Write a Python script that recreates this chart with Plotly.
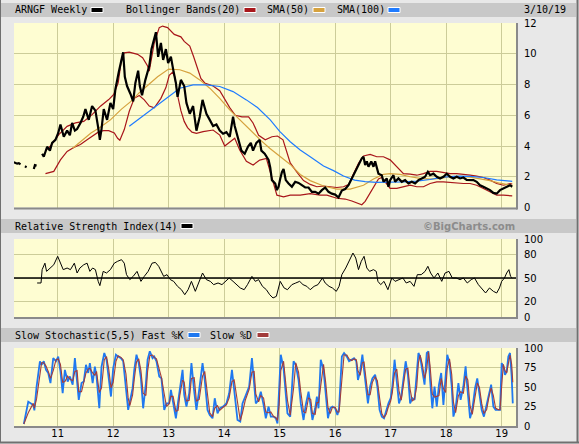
import plotly.graph_objects as go

W, H = 579, 444

# ---------------- data (decimal years) ----------------
price_x = [2010.21, 2010.24, 2010.27, 2010.30, 2010.33, None,
           2010.41, 2010.44, None,
           2010.57, 2010.59, 2010.62, None,
           2010.72, 2010.75, 2010.81, 2010.86, 2010.90, 2010.96, 2011.01, 2011.05, 2011.11, 2011.17,
           2011.22, 2011.26, 2011.31, 2011.35, 2011.41, 2011.46, 2011.50, 2011.56, 2011.62, 2011.68,
           2011.73, 2011.76, 2011.79, 2011.83, 2011.89, 2011.95, 2012.00, 2012.04, 2012.10, 2012.15,
           2012.18, 2012.21, 2012.25, 2012.31, 2012.36, 2012.40, 2012.45, 2012.48, 2012.52, 2012.58,
           2012.65, 2012.69, 2012.74, 2012.77, 2012.81, 2012.86, 2012.90, 2012.95, 2012.99, 2013.04,
           2013.08, 2013.13, 2013.16, 2013.22, 2013.28, 2013.32, 2013.38, 2013.44, 2013.50, 2013.56,
           2013.61, 2013.65, 2013.68, 2013.74, 2013.80, 2013.86, 2013.92, 2013.98, 2014.04, 2014.10,
           2014.16, 2014.19, 2014.25, 2014.31, 2014.37, 2014.43, 2014.48, 2014.52, 2014.58, 2014.64,
           2014.67, 2014.73, 2014.80, 2014.83, 2014.86, 2014.92, 2014.95, 2014.98, 2015.01, 2015.04,
           2015.07, 2015.11, 2015.16, 2015.22, 2015.28, 2015.34, 2015.40, 2015.46, 2015.52, 2015.58,
           2015.64, 2015.70, 2015.76, 2015.82, 2015.88, 2015.94, 2016.00, 2016.06, 2016.12, 2016.18,
           2016.24, 2016.30, 2016.36, 2016.42, 2016.48, 2016.51, 2016.54, 2016.57, 2016.60, 2016.65,
           2016.69, 2016.72, 2016.75, 2016.78, 2016.84, 2016.87, 2016.93, 2016.96, 2016.99, 2017.05,
           2017.08, 2017.14, 2017.20, 2017.26, 2017.32, 2017.38, 2017.44, 2017.50, 2017.56, 2017.62,
           2017.67, 2017.71, 2017.77, 2017.83, 2017.89, 2017.95, 2018.01, 2018.07, 2018.13, 2018.19,
           2018.25, 2018.31, 2018.37, 2018.43, 2018.49, 2018.55, 2018.61, 2018.67, 2018.73, 2018.79,
           2018.85, 2018.91, 2018.97, 2019.03, 2019.09, 2019.15, 2019.19]
price_y = [2.95, 2.9, 2.85, 2.88, 2.8, None,
           2.68, 2.62, None,
           2.5, 2.75, 2.72, None,
           3.5, 3.3, 3.95, 3.7, 4.2, 4.4, 4.85, 5.4, 4.6, 5.0,
           4.7, 5.5, 5.0, 5.1, 5.5, 5.9, 6.4, 5.7, 6.6, 6.3,
           5.2, 4.4, 5.1, 6.4, 5.7, 6.8, 6.4, 7.7, 8.8, 9.6,
           10.1, 8.5, 7.9, 7.4, 6.9, 8.1, 8.9, 7.9, 7.3, 8.3,
           9.2, 10.3, 10.9, 11.4, 9.8, 10.7, 9.6, 10.3, 9.4, 9.8,
           9.0, 8.1, 7.2, 8.3, 7.9, 6.8, 6.1, 6.6, 5.0, 5.9,
           7.0, 6.5, 6.1, 5.7, 5.3, 5.4, 5.0, 4.8, 4.9, 4.6,
           5.9, 5.3, 4.4, 3.7, 3.5, 3.96, 4.2, 3.7, 4.2, 4.4,
           3.7, 3.5, 3.1, 2.6, 1.78, 1.56, 1.13, 1.35, 1.87, 2.3,
           2.5, 1.78, 1.56, 1.35, 1.67, 1.6, 1.45, 1.3, 1.3, 1.02,
           1.02, 0.9, 1.13, 1.3, 1.02, 0.9, 0.84, 0.65, 1.1, 1.2,
           1.45, 1.9, 2.3, 2.76, 3.2, 3.3, 2.76, 3.0, 2.65, 3.0,
           2.65, 3.0, 2.54, 2.2, 2.1, 1.67, 1.89, 1.35, 1.78, 2.1,
           1.67, 1.89, 1.67, 1.78, 1.56, 1.67, 1.56, 1.78, 1.89, 2.0,
           2.32, 2.1, 2.2, 2.0, 1.89, 2.0, 2.2, 2.0, 1.89, 2.0,
           1.89, 1.95, 1.8, 1.78, 1.78, 1.67, 1.45, 1.35, 1.24, 1.13,
           0.95, 0.9, 1.13, 1.24, 1.35, 1.45, 1.35]

bb_upper_x = [2010.78, 2010.87, 2011.02, 2011.17, 2011.32, 2011.47, 2011.62, 2011.77, 2011.92, 2012.01,
              2012.09, 2012.15, 2012.20, 2012.29, 2012.44, 2012.53, 2012.62, 2012.65, 2012.74, 2012.83,
              2012.89, 2012.98, 2013.10, 2013.22, 2013.28, 2013.38, 2013.45, 2013.50, 2013.58, 2013.65,
              2013.80, 2013.92, 2014.02, 2014.10, 2014.20, 2014.32, 2014.44, 2014.52, 2014.62, 2014.74,
              2014.86, 2014.96, 2015.06, 2015.13, 2015.19, 2015.31, 2015.43, 2015.55, 2015.67, 2015.79,
              2015.91, 2016.03, 2016.15, 2016.24, 2016.33, 2016.42, 2016.51, 2016.63, 2016.75, 2016.87,
              2016.99, 2017.11, 2017.23, 2017.35, 2017.47, 2017.59, 2017.71, 2017.83, 2017.95, 2018.07,
              2018.19, 2018.31, 2018.43, 2018.55, 2018.67, 2018.79, 2018.91, 2019.03, 2019.15, 2019.19]
bb_upper_y = [3.7, 4.0, 4.74, 5.28, 5.5, 5.6, 6.04, 6.59, 7.02, 7.35,
              8.1, 9.63, 10.06, 10.1, 9.96, 9.74, 9.2, 8.87, 10.7, 11.7,
              11.8, 11.7, 11.26, 11.1, 10.8, 10.5, 9.8, 9.2, 8.4, 8.1,
              7.9, 7.6, 7.0, 6.5, 6.0, 5.9, 5.9, 5.5, 4.7, 4.4,
              4.6, 4.65, 4.4, 3.6, 2.9, 2.3, 1.75, 1.5, 1.35, 1.4,
              1.35, 1.3, 1.35, 1.5, 2.2, 2.87, 3.35, 3.45, 3.3, 3.3,
              3.1, 2.65, 2.2, 2.17, 2.1, 2.2, 2.35, 2.35, 2.28, 2.2,
              2.2, 2.17, 2.1, 2.04, 1.95, 1.78, 1.56, 1.45, 1.56, 1.52]

bb_lower_x = [2010.78, 2010.93, 2011.05, 2011.17, 2011.29, 2011.41, 2011.53, 2011.65, 2011.75, 2011.83,
              2011.92, 2012.02, 2012.08, 2012.12, 2012.20, 2012.29, 2012.38, 2012.47, 2012.56, 2012.65,
              2012.74, 2012.86, 2012.95, 2013.01, 2013.07, 2013.11, 2013.16, 2013.22, 2013.28, 2013.34,
              2013.42, 2013.50, 2013.62, 2013.80, 2013.92, 2014.01, 2014.10, 2014.19, 2014.28, 2014.40,
              2014.52, 2014.64, 2014.76, 2014.85, 2014.95, 2015.07, 2015.19, 2015.37, 2015.55, 2015.73,
              2015.85, 2016.03, 2016.18, 2016.30, 2016.42, 2016.48, 2016.54, 2016.63, 2016.72, 2016.78,
              2016.84, 2016.93, 2016.99, 2017.11, 2017.23, 2017.35, 2017.47, 2017.59, 2017.71, 2017.83,
              2017.95, 2018.07, 2018.19, 2018.31, 2018.43, 2018.55, 2018.67, 2018.79, 2018.91, 2019.03,
              2019.15, 2019.19]
bb_lower_y = [2.2, 2.35, 3.1, 3.65, 3.9, 4.1, 4.4, 4.7, 4.95, 5.0,
              5.0, 4.85, 4.5, 4.37, 5.07, 6.26, 7.1, 7.28, 7.0, 6.6,
              6.48, 7.1, 7.8, 8.6, 8.8, 8.5, 7.3, 6.3, 5.6, 5.2,
              4.9, 4.82, 4.93, 5.04, 4.71, 4.0, 4.28, 4.5, 3.74, 3.0,
              2.76, 3.08, 3.19, 2.0, 0.8, 0.69, 0.8, 0.8, 0.9, 0.8,
              0.8, 0.6, 0.55, 0.42, 0.24, 0.18, 0.4, 0.95, 1.5, 1.85,
              1.95, 1.5, 1.24, 1.24, 1.35, 1.45, 1.35, 1.35, 1.56, 1.67,
              1.67, 1.63, 1.6, 1.56, 1.56, 1.45, 1.24, 1.02, 0.8, 0.8,
              0.8, 0.76]

sma50_x = [2011.27, 2011.45, 2011.60, 2011.76, 2011.95, 2012.15, 2012.32, 2012.48, 2012.65, 2012.80,
           2013.00, 2013.20, 2013.38, 2013.56, 2013.74, 2013.92, 2014.10, 2014.28, 2014.46, 2014.65,
           2014.82, 2015.00, 2015.19, 2015.37, 2015.55, 2015.79, 2016.03, 2016.27, 2016.51, 2016.69,
           2016.87, 2016.99, 2017.17, 2017.35, 2017.53, 2017.71, 2017.89, 2018.07, 2018.25, 2018.43,
           2018.61, 2018.79, 2018.97, 2019.15, 2019.19]
sma50_y = [3.85, 4.4, 4.85, 5.2, 5.7, 6.4, 6.9, 7.5, 8.0, 8.5,
           9.0, 8.96, 8.74, 8.3, 7.76, 7.1, 6.35, 5.7, 5.04, 4.4,
           3.85, 3.35, 2.8, 2.15, 1.75, 1.4, 1.2, 1.2, 1.45, 1.85,
           2.15, 2.2, 2.15, 2.0, 1.9, 1.85, 1.9, 2.0, 2.02, 1.98,
           1.88, 1.75, 1.58, 1.45, 1.42]

sma100_x = [2012.29, 2012.50, 2012.74, 2012.98, 2013.20, 2013.44, 2013.68, 2013.92, 2014.16, 2014.40,
            2014.60, 2014.83, 2015.00, 2015.19, 2015.37, 2015.55, 2015.79, 2015.97, 2016.15, 2016.35,
            2016.54, 2016.75, 2016.99, 2017.23, 2017.47, 2017.71, 2017.95, 2018.19, 2018.43, 2018.67,
            2018.91, 2019.19]
sma100_y = [5.28, 5.85, 6.5, 7.15, 7.76, 7.98, 7.98, 7.87, 7.54, 7.0,
            6.5, 5.7, 4.95, 4.28, 3.74, 3.3, 2.7, 2.4, 2.05, 1.78,
            1.68, 1.63, 1.64, 1.67, 1.72, 1.82, 1.97, 2.04, 2.03, 1.95,
            1.8, 1.7]

rsi_x = [2010.63, 2010.70, 2010.72, 2010.77, 2010.80, 2010.87, 2010.93, 2011.00, 2011.05, 2011.10,
         2011.17, 2011.23, 2011.30, 2011.35, 2011.40, 2011.47, 2011.53, 2011.58, 2011.63, 2011.68,
         2011.73, 2011.76, 2011.82, 2011.88, 2011.95, 2012.02, 2012.08, 2012.15, 2012.20, 2012.24,
         2012.30, 2012.36, 2012.43, 2012.50, 2012.56, 2012.63, 2012.70, 2012.76, 2012.82, 2012.86,
         2012.91, 2012.97, 2013.03, 2013.09, 2013.16, 2013.23, 2013.29, 2013.35, 2013.41, 2013.48,
         2013.55, 2013.61, 2013.68, 2013.75, 2013.81, 2013.89, 2013.96, 2014.03, 2014.09, 2014.16,
         2014.22, 2014.29, 2014.36, 2014.42, 2014.50, 2014.56, 2014.62, 2014.69, 2014.76, 2014.82,
         2014.88, 2014.94, 2015.01, 2015.08, 2015.14, 2015.22, 2015.29, 2015.36, 2015.42, 2015.49,
         2015.55, 2015.62, 2015.69, 2015.77, 2015.82, 2015.89, 2015.95, 2016.02, 2016.07, 2016.12,
         2016.19, 2016.25, 2016.32, 2016.37, 2016.42, 2016.47, 2016.52, 2016.57, 2016.62, 2016.69,
         2016.74, 2016.77, 2016.82, 2016.88, 2016.95, 2017.02, 2017.08, 2017.15, 2017.22, 2017.28,
         2017.35, 2017.42, 2017.48, 2017.55, 2017.62, 2017.67, 2017.72, 2017.78, 2017.85, 2017.92,
         2017.98, 2018.05, 2018.11, 2018.18, 2018.25, 2018.31, 2018.38, 2018.45, 2018.51, 2018.58,
         2018.65, 2018.71, 2018.78, 2018.85, 2018.91, 2018.96, 2019.00, 2019.05, 2019.09, 2019.13,
         2019.16, 2019.19]
rsi_y = [43.6, 43.6, 60.7, 69, 58.5, 62.8, 67, 77.8, 69, 60.7,
         62.8, 60.7, 69, 56.4, 62.8, 67, 69, 58.5, 62.8, 60.7,
         45.7, 40.2, 58.5, 56.4, 60.7, 69, 71.4, 73.5, 69, 54.3,
         47.9, 52.1, 58.5, 45.7, 52.1, 58.5, 69, 70, 65, 58.5,
         52.1, 54.3, 47.9, 45.7, 39.3, 35, 28.6, 35, 45.7, 32.9,
         45.7, 56.4, 47.9, 45.7, 41.5, 43.6, 41.5, 45.7, 50, 45.7,
         41.5, 37.2, 35, 41.5, 52.1, 45.7, 47.9, 39.3, 35, 28.6,
         24.4, 26.5, 45.7, 37.2, 35, 41.5, 43.6, 45.7, 41.5, 39.3,
         35, 39.3, 41.5, 50, 43.6, 39.3, 37.2, 32.9, 39.3, 54.3,
         62.8, 71.4, 82, 75.6, 60.7, 71.4, 77.8, 62.8, 58.5, 60.7,
         58.5, 45.7, 41.5, 45.7, 35, 50, 45.7, 47.9, 50, 43.6,
         45.7, 39.3, 54.3, 54.3, 58.5, 65, 56.4, 50, 56.4, 45.7,
         56.4, 58.5, 50, 50, 47.9, 50, 43.6, 47.9, 50, 41.5,
         35, 30.8, 37.2, 32.9, 30.8, 37.2, 45.7, 50, 56.4, 60.7,
         52.1, 50]

stoch_x = [2010.39, 2010.47, 2010.56, 2010.58, 2010.62, 2010.68, 2010.71, 2010.75, 2010.79, 2010.83,
           2010.87, 2010.92, 2010.97, 2011.01, 2011.05, 2011.09, 2011.13, 2011.18, 2011.22, 2011.27,
           2011.31, 2011.35, 2011.38, 2011.43, 2011.47, 2011.51, 2011.55, 2011.58, 2011.63, 2011.67,
           2011.70, 2011.75, 2011.79, 2011.84, 2011.88, 2011.92, 2011.96, 2012.00, 2012.05, 2012.09,
           2012.14, 2012.18, 2012.23, 2012.27, 2012.30, 2012.35, 2012.38, 2012.42, 2012.46, 2012.50,
           2012.54, 2012.59, 2012.62, 2012.66, 2012.71, 2012.74, 2012.78, 2012.83, 2012.87, 2012.92,
           2012.96, 2013.01, 2013.04, 2013.08, 2013.13, 2013.17, 2013.20, 2013.25, 2013.28, 2013.32,
           2013.37, 2013.41, 2013.46, 2013.50, 2013.55, 2013.61, 2013.65, 2013.70, 2013.74, 2013.79,
           2013.83, 2013.88, 2013.92, 2013.98, 2014.04, 2014.09, 2014.14, 2014.18, 2014.24, 2014.29,
           2014.33, 2014.38, 2014.42, 2014.45, 2014.50, 2014.54, 2014.57, 2014.62, 2014.66, 2014.71,
           2014.75, 2014.80, 2014.84, 2014.89, 2014.93, 2014.96, 2014.99, 2015.02, 2015.07, 2015.10,
           2015.14, 2015.19, 2015.25, 2015.29, 2015.34, 2015.38, 2015.43, 2015.47, 2015.52, 2015.56,
           2015.59, 2015.64, 2015.67, 2015.70, 2015.74, 2015.79, 2015.83, 2015.87, 2015.91, 2015.95,
           2016.00, 2016.04, 2016.07, 2016.12, 2016.16, 2016.21, 2016.25, 2016.30, 2016.34, 2016.38,
           2016.41, 2016.45, 2016.49, 2016.52, 2016.56, 2016.59, 2016.63, 2016.67, 2016.72, 2016.76,
           2016.80, 2016.84, 2016.88, 2016.92, 2016.96, 2017.00, 2017.03, 2017.07, 2017.11, 2017.15,
           2017.19, 2017.23, 2017.27, 2017.31, 2017.35, 2017.39, 2017.43, 2017.47, 2017.50, 2017.53,
           2017.57, 2017.61, 2017.65, 2017.68, 2017.71, 2017.75, 2017.79, 2017.83, 2017.87, 2017.91,
           2017.95, 2017.99, 2018.02, 2018.06, 2018.10, 2018.13, 2018.17, 2018.22, 2018.26, 2018.31,
           2018.35, 2018.39, 2018.43, 2018.47, 2018.52, 2018.56, 2018.60, 2018.64, 2018.68, 2018.73,
           2018.77, 2018.81, 2018.85, 2018.89, 2018.94, 2018.97, 2019.00, 2019.03, 2019.06, 2019.09,
           2019.12, 2019.15, 2019.18, 2019.20]
stoch_k = [2.6, 31, 27, 20, 50.6, 83, 78.5, 83, 72, 68,
           55, 87, 83, 89, 70, 42, 72, 57, 63.5, 53,
           87, 55, 33.5, 55, 57, 78.5, 68, 80.7, 55, 76,
           63.5, 22.7, 76, 93.6, 85, 61, 37.8, 74, 91.4, 89,
           87, 83, 50.6, 20.6, 31, 48.5, 72, 91.4, 80.7, 61,
           22.7, 55, 85, 95.7, 87, 89, 83, 63.5, 61, 20.6,
           29, 29, 46.4, 29, 9.9, 31, 46.4, 72, 40, 24.9,
           42, 80.7, 44, 20.6, 46.4, 80.7, 59, 20.6, 14, 9.9,
           35.6, 16.3, 22.7, 24.9, 29, 42, 72, 46.4, 7.7, 5.6,
           29, 37.8, 44, 50.6, 87, 53, 29, 33.5, 44, 27,
           9.9, 24.9, 12, 12, 9.9, 3.4, 50.6, 91.4, 74, 50.6,
           16.3, 12, 83, 78.5, 59, 29, 7.7, 27, 44, 24.9,
           7.7, 22.7, 37.8, 22.7, 85, 72, 37.8, 9.9, 22.7, 24.9,
           22.7, 14, 22.7, 89, 93.6, 89, 83, 85, 87, 83,
           59, 70, 91.4, 72, 50.6, 29, 50.6, 61, 65.7, 50.6,
           20.6, 12, 9.9, 20.6, 29, 35.6, 50.6, 85, 61, 29,
           37.8, 63.5, 83, 65.7, 29, 35.6, 33.5, 68, 93.6, 89,
           68, 53, 93.6, 95.7, 59, 22.7, 50.6, 24.9, 53, 68,
           27, 59, 91.4, 80.7, 50.6, 12, 22.7, 55, 33.5, 50.6,
           76.4, 42, 9.9, 20.6, 48.5, 61, 37.8, 20.6, 12, 29,
           44, 53, 24.9, 20.6, 20.6, 20.6, 80.7, 76.4, 65.7, 70,
           89, 93.6, 63.5, 29]
stoch_d = [2.6, 17, 29, 23, 35, 67, 81, 81, 77, 70,
           61, 71, 85, 86, 79, 56, 57, 64, 60, 58,
           70, 71, 44, 44, 56, 68, 73, 74, 68, 65,
           70, 43, 49, 85, 89, 73, 49, 56, 83, 90,
           88, 85, 67, 36, 26, 40, 60, 82, 86, 71,
           42, 39, 70, 90, 91, 88, 86, 73, 62, 41,
           25, 29, 38, 38, 19, 20, 39, 59, 56, 32,
           33, 61, 62, 32, 34, 64, 70, 40, 17, 12,
           23, 26, 20, 24, 27, 36, 57, 59, 27, 7,
           17, 33, 41, 47, 69, 70, 41, 31, 39, 36,
           18, 17, 18, 12, 11, 7, 27, 71, 83, 62,
           33, 14, 48, 81, 69, 44, 18, 17, 36, 34,
           16, 15, 30, 30, 54, 79, 55, 24, 16, 24,
           24, 18, 18, 56, 91, 91, 86, 84, 86, 85,
           71, 65, 81, 82, 61, 40, 40, 56, 63, 58,
           36, 16, 11, 15, 25, 32, 43, 68, 73, 45,
           33, 51, 73, 74, 47, 32, 35, 51, 81, 91,
           79, 61, 73, 95, 77, 41, 37, 38, 39, 61,
           48, 43, 75, 86, 66, 31, 17, 39, 44, 42,
           64, 59, 26, 15, 35, 55, 49, 29, 16, 21,
           37, 49, 39, 23, 21, 21, 51, 79, 71, 68,
           80, 91, 79, 56]

year_ticks = [2011, 2012, 2013, 2014, 2015, 2016, 2017, 2018, 2019]
year_labels = ["11", "12", "13", "14", "15", "16", "17", "18", "19"]
price_ticks = [0, 2, 4, 6, 8, 10, 12]
rsi_ticks = [0, 20, 50, 80, 100]
stoch_ticks = [0, 25, 50, 75, 100]
x_range = [2010.213, 2019.258]

# ---------------- styling ----------------
C_PRICE = "#000000"
C_BB = "#a8161b"
C_SMA50 = "#d6a23e"
C_SMA100 = "#1f7bff"
C_K = "#1f78f0"
C_D = "#a23c3c"
GRID = "#cccc99"
PLOT_BG = "#fefdd2"
PAPER_BG = "#e8e8e8"
HEADER_BG = "#c8c8c8"
TICK_FONT = dict(family="DejaVu Sans", size=10, color="#000000")
HEAD_FONT = dict(family="DejaVu Sans Mono", size=10, color="#000000")


def px(x):
    return x / W


def py(y):
    return 1 - y / H


# panel pixel boxes (top, bottom)
MAIN = (23, 207.5)
RSI = (239, 317)
STO = (348, 426)
LEFT, RIGHT = 14, 516

fig = go.Figure()

# main panel
fig.add_trace(go.Scatter(x=bb_upper_x, y=bb_upper_y, mode="lines", line=dict(color=C_BB, width=1.2),
                         xaxis="x", yaxis="y", hoverinfo="skip"))
fig.add_trace(go.Scatter(x=bb_lower_x, y=bb_lower_y, mode="lines", line=dict(color=C_BB, width=1.2),
                         xaxis="x", yaxis="y", hoverinfo="skip"))
fig.add_trace(go.Scatter(x=sma50_x, y=sma50_y, mode="lines", line=dict(color=C_SMA50, width=1.2),
                         xaxis="x", yaxis="y", hoverinfo="skip"))
fig.add_trace(go.Scatter(x=sma100_x, y=sma100_y, mode="lines", line=dict(color=C_SMA100, width=1.2),
                         xaxis="x", yaxis="y", hoverinfo="skip"))
fig.add_trace(go.Scatter(x=price_x, y=price_y, mode="lines", line=dict(color=C_PRICE, width=2.2),
                         connectgaps=False, xaxis="x", yaxis="y", hoverinfo="skip"))

# RSI panel
fig.add_trace(go.Scatter(x=rsi_x, y=rsi_y, mode="lines", line=dict(color="#000000", width=1),
                         xaxis="x2", yaxis="y2", hoverinfo="skip"))

# Stochastic panel
fig.add_trace(go.Scatter(x=stoch_x, y=stoch_k, mode="lines", line=dict(color=C_K, width=1.8),
                         xaxis="x3", yaxis="y3", hoverinfo="skip"))
fig.add_trace(go.Scatter(x=stoch_x, y=stoch_d, mode="lines", line=dict(color=C_D, width=1.1),
                         xaxis="x3", yaxis="y3", hoverinfo="skip"))

xcommon = dict(range=x_range, tickvals=year_ticks, ticktext=year_labels, showgrid=True,
               gridcolor=GRID, gridwidth=1, zeroline=False, showline=False, ticks="",
               fixedrange=True, automargin=False, domain=[px(LEFT), px(RIGHT)])
ycommon = dict(side="right", showgrid=True, gridcolor=GRID, gridwidth=1, zeroline=False,
               showline=False, ticks="", tickfont=TICK_FONT, ticklabelstandoff=7,
               fixedrange=True, automargin=False)

shapes = []
annotations = []

# header bars
for top, bot in [(3, 17), (219, 233), (328, 342)]:
    shapes.append(dict(type="rect", xref="paper", yref="paper", x0=px(1), x1=px(576),
                       y0=py(bot), y1=py(top), fillcolor=HEADER_BG, line=dict(width=0), layer="below"))

# plot shadows (bottom/right)
for top, bot in [MAIN, RSI, STO]:
    shapes.append(dict(type="line", xref="paper", yref="paper", x0=px(LEFT), x1=px(RIGHT + 1),
                       y0=py(bot + 1), y1=py(bot + 1), line=dict(color="#8a8a8a", width=2)))
    shapes.append(dict(type="line", xref="paper", yref="paper", x0=px(RIGHT + 1), x1=px(RIGHT + 1),
                       y0=py(bot + 2), y1=py(top), line=dict(color="#8a8a8a", width=2)))

# RSI 50 line
shapes.append(dict(type="line", xref="x2 domain", yref="y2", x0=0, x1=1, y0=50, y1=50,
                   line=dict(color="#000000", width=1.3)))

# outer frame
shapes.append(dict(type="line", xref="paper", yref="paper", x0=px(0.5), x1=px(0.5), y0=py(443), y1=py(0),
                   line=dict(color="#707070", width=1)))
shapes.append(dict(type="line", xref="paper", yref="paper", x0=px(577.5), x1=px(577.5), y0=py(443), y1=py(0),
                   line=dict(color="#707070", width=2)))
shapes.append(dict(type="line", xref="paper", yref="paper", x0=px(0), x1=px(579), y0=py(442.5), y1=py(442.5),
                   line=dict(color="#707070", width=2)))


def head_text(x, y, text, font=HEAD_FONT, anchor="left"):
    annotations.append(dict(xref="paper", yref="paper", x=px(x), y=py(y), text=text, showarrow=False,
                            xanchor=anchor, yanchor="middle", font=font, borderpad=0))


def swatch(x0, y, color):
    shapes.append(dict(type="rect", xref="paper", yref="paper", x0=px(x0), x1=px(x0 + 12),
                       y0=py(y + 2.5), y1=py(y - 2.5), fillcolor=color, line=dict(color="#ffffff", width=1)))


head_text(14, 10, "ARNGF Weekly")
swatch(91, 10, C_PRICE)
head_text(125, 10, "Bollinger Bands(20)")
swatch(244, 10, C_BB)
head_text(266, 10, "SMA(50)")
swatch(313, 10, C_SMA50)
head_text(336, 10, "SMA(100)")
swatch(388, 10, C_SMA100)
head_text(523, 10, "3/10/19")

head_text(14, 226, "Relative Strength Index(14)")
swatch(181, 226, "#000000")
head_text(516, 226, "<b>©BigCharts.com</b>", font=dict(family="DejaVu Sans", size=10, color="#8c8c8c"),
          anchor="right")

head_text(14, 335, "Slow Stochastic(5,5) Fast %K")
swatch(188, 335, C_K)
head_text(209, 335, "Slow %D")
swatch(257, 335, C_D)

fig.update_layout(
    width=W, height=H, template="none",
    margin=dict(l=0, r=0, t=0, b=0),
    paper_bgcolor=PAPER_BG, plot_bgcolor=PLOT_BG,
    showlegend=False,
    xaxis=dict(xcommon, anchor="y", showticklabels=False),
    xaxis2=dict(xcommon, anchor="y2", showticklabels=False),
    xaxis3=dict(xcommon, anchor="y3", showticklabels=True, tickfont=TICK_FONT),
    yaxis=dict(ycommon, anchor="x", domain=[py(MAIN[1]), py(MAIN[0])], range=[0, 12], tickvals=price_ticks),
    yaxis2=dict(ycommon, anchor="x2", domain=[py(RSI[1]), py(RSI[0])], range=[0, 100], tickvals=rsi_ticks),
    yaxis3=dict(ycommon, anchor="x3", domain=[py(STO[1]), py(STO[0])], range=[0, 100], tickvals=stoch_ticks),
    shapes=shapes, annotations=annotations,
)

fig.write_html("out.html", config={"displayModeBar": False, "staticPlot": True},
               post_script="document.body.style.margin='0';document.body.style.overflow='hidden';")
